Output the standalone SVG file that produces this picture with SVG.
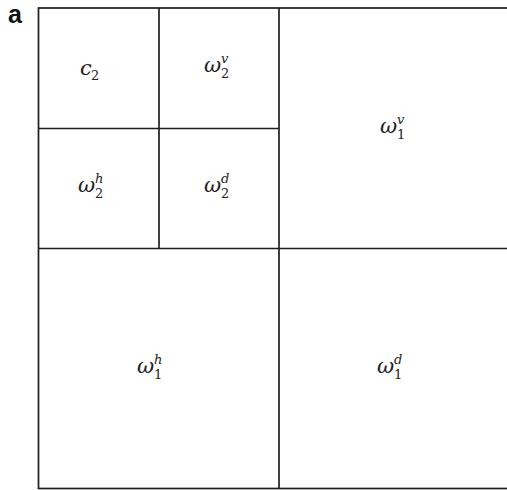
<svg xmlns="http://www.w3.org/2000/svg" width="507" height="490" viewBox="0 0 507 490">
<style>
.ln{stroke:#1e1e1e;stroke-width:1.7;fill:none}
.m{font-family:"DejaVu Serif","Liberation Serif",serif;font-style:italic;font-size:21px;fill:#222}
.s{font-family:"DejaVu Serif","Liberation Serif",serif;font-size:13px;fill:#222}
.si{font-family:"DejaVu Serif","Liberation Serif",serif;font-style:italic;font-size:13px;fill:#222}
.lab{font-family:"Liberation Sans",Arial,sans-serif;font-weight:bold;font-size:25px;fill:#111}
</style>
<rect width="507" height="490" fill="#fff"/>
<text class="lab" x="8" y="23">a</text>
<g id="connectors">
<rect class="ln" x="38.5" y="8" width="481" height="480.5"/>
<line class="ln" x1="279" y1="8" x2="279" y2="488.5"/>
<line class="ln" x1="38.5" y1="248.5" x2="519.5" y2="248.5"/>
<line class="ln" x1="159" y1="8" x2="159" y2="248.5"/>
<line class="ln" x1="38.5" y1="128.5" x2="279" y2="128.5"/>
</g>
<g id="c2"><text class="m" x="80" y="75">c</text><text class="s" x="91" y="80">2</text></g>
<g id="w2v"><text class="m" x="204" y="72">ω</text><text class="si" x="221" y="63">v</text><text class="s" x="221" y="78">2</text></g>
<g id="w2h"><text class="m" x="78" y="192">ω</text><text class="si" x="95" y="183">h</text><text class="s" x="95" y="198">2</text></g>
<g id="w2d"><text class="m" x="204" y="192">ω</text><text class="si" x="221" y="183">d</text><text class="s" x="221" y="198">2</text></g>
<g id="w1v"><text class="m" x="380" y="133">ω</text><text class="si" x="397" y="124">v</text><text class="s" x="397" y="139">1</text></g>
<g id="w1h"><text class="m" x="137" y="373">ω</text><text class="si" x="154" y="364">h</text><text class="s" x="154" y="379">1</text></g>
<g id="w1d"><text class="m" x="377" y="373">ω</text><text class="si" x="394" y="364">d</text><text class="s" x="394" y="379">1</text></g>
</svg>
